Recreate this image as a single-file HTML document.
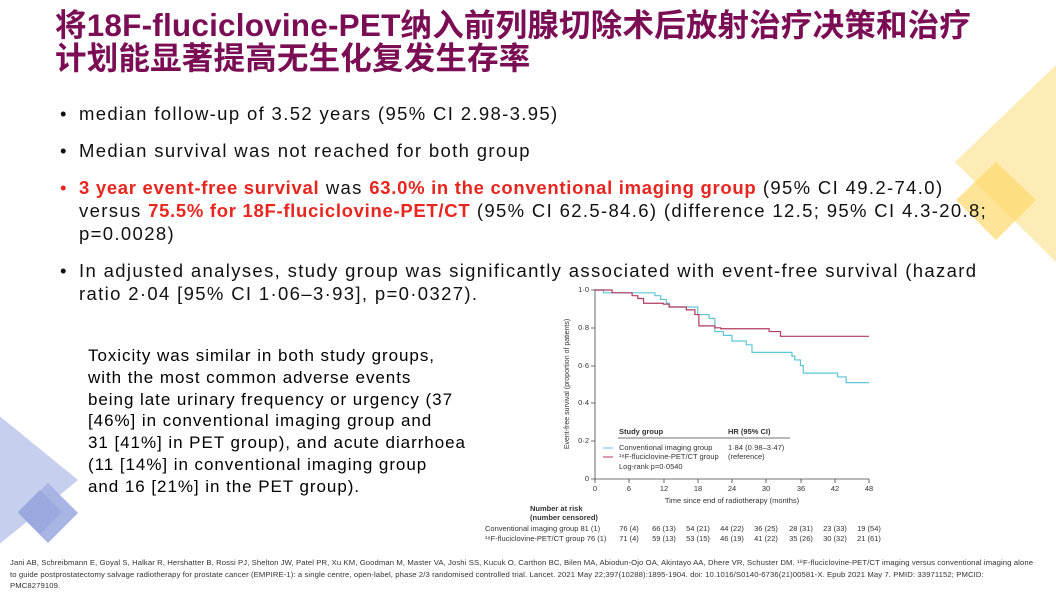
<!DOCTYPE html>
<html><head><meta charset="utf-8"><style>
body{margin:0;width:1056px;height:590px;overflow:hidden;background:#fff;font-family:"Liberation Sans","Noto Sans CJK SC",sans-serif;position:relative}
.t{position:absolute;left:55px;top:9px;font-size:31.5px;font-weight:bold;color:#7b0d55;line-height:33px;font-family:"Liberation Sans","Noto Sans CJK SC",sans-serif;letter-spacing:0.2px;white-space:nowrap}
.b{position:absolute;left:60px;font-size:18.5px;color:#111;line-height:23px;width:990px;letter-spacing:1.35px;white-space:nowrap}
.b span.d{position:absolute;left:0}
.b div{margin-left:19px}
.r{color:#e8261f;font-weight:bold;letter-spacing:0.7px}
.tox{position:absolute;left:88px;top:345px;font-size:17px;line-height:21.8px;color:#000;letter-spacing:0.95px;white-space:nowrap}
.ref{position:absolute;left:10px;top:557px;font-size:7.7px;line-height:11.5px;color:#333;white-space:nowrap;letter-spacing:0.1px}
</style></head><body>
<svg width="1056" height="590" style="position:absolute;left:0;top:0">
<polygon points="1056,65 955,162 1056,262" fill="#fde9a8" opacity="0.85"/>
<polygon points="996,162 1036,200 996,240 956,200" fill="#fcd96a" opacity="0.7"/>
<polygon points="-20,400 78,480 -20,560" fill="#c7cfee"/>
<polygon points="48,483 78,513 48,543 18,513" fill="#a8b5e4"/>
<polygon points="40,490 62,512 40,534 18,512" fill="#9aa8df"/>
</svg>
<div class="t">将18F-fluciclovine-PET纳入前列腺切除术后放射治疗决策和治疗<br>计划能显著提高无生化复发生存率</div>
<div class="b" style="top:102px"><span class="d">•</span><div>median follow-up of 3.52 years (95% CI 2.98-3.95)</div></div>
<div class="b" style="top:139px"><span class="d">•</span><div>Median survival was not reached for both group</div></div>
<div class="b" style="top:176px"><span class="d" style="color:#e8261f">•</span><div><span class="r">3 year event-free survival</span> was <span class="r">63.0% in the conventional imaging group</span> (95% CI 49.2-74.0)<br>versus <span class="r">75.5% for 18F-fluciclovine-PET/CT</span> (95% CI 62.5-84.6) (difference 12.5; 95% CI 4.3-20.8;<br>p=0.0028)</div></div>
<div class="b" style="top:259px"><span class="d">•</span><div>In adjusted analyses, study group was significantly associated with event-free survival (hazard<br>ratio 2·04 [95% CI 1·06–3·93], p=0·0327).</div></div>
<div class="tox">Toxicity was similar in both study groups,<br>with the most common adverse events<br>being late urinary frequency or urgency (37<br>[46%] in conventional imaging group and<br>31 [41%] in PET group), and acute diarrhoea<br>(11 [14%] in conventional imaging group<br>and 16 [21%] in the PET group).</div>
<svg width="1056" height="590" style="position:absolute;left:0;top:0" font-family="Liberation Sans,sans-serif" font-size="7.5" fill="#333">
<g stroke="#444" stroke-width="0.8" fill="none">
<line x1="595" y1="289" x2="595" y2="479"/><line x1="595" y1="479" x2="869" y2="479"/>
<path d="M591,290H595M591,328H595M591,366H595M591,403H595M591,441H595M591,479H595"/>
<path d="M595,479v4M629,479v4M664,479v4M698,479v4M732,479v4M766,479v4M801,479v4M835,479v4M869,479v4"/>
<line x1="618" y1="438" x2="790" y2="438"/>
</g>
<g text-anchor="end"><text x="589" y="292">1·0</text><text x="589" y="330">0·8</text><text x="589" y="368">0·6</text><text x="589" y="405">0·4</text><text x="589" y="443">0·2</text><text x="589" y="481">0</text></g>
<g text-anchor="middle"><text x="595" y="491">0</text><text x="629" y="491">6</text><text x="664" y="491">12</text><text x="698" y="491">18</text><text x="732" y="491">24</text><text x="766" y="491">30</text><text x="801" y="491">36</text><text x="835" y="491">42</text><text x="869" y="491">48</text>
<text x="732" y="503">Time since end of radiotherapy (months)</text></g>
<text transform="translate(569,384) rotate(-90)" text-anchor="middle" font-size="7">Event-free survival (proportion of patients)</text>
<g transform="translate(595,479) scale(5.708,-189)" fill="none" stroke-width="1.2">
<path vector-effect="non-scaling-stroke" stroke="#5cc6d8" d="M0,1H1.5V.985H10.5V.97H11.5V.95H12.5V.93H13V.91H18V.87H20V.85H21V.78H22.5V.76H24V.73H26.5V.71H27.5V.67H34.5V.65H35V.63H36V.6H36.5V.56H42.5V.54H44V.51H48"/>
<path vector-effect="non-scaling-stroke" stroke="#b23a5e" d="M0,1H3V.985H6.5V.97H7.5V.955H8.5V.93H12V.925H13V.91H16V.895H17.5V.87H18.2V.81H21V.8H22V.795H30.5V.78H32.5V.755H48"/>
</g>
<text x="619" y="434" font-weight="bold">Study group</text><text x="728" y="434" font-weight="bold">HR (95% CI)</text>
<line x1="603" y1="448" x2="613" y2="448" stroke="#5cc6d8"/><line x1="603" y1="457" x2="613" y2="457" stroke="#b23a5e"/>
<text x="619" y="450">Conventional imaging group</text><text x="728" y="450">1·84 (0·98–3·47)</text>
<text x="619" y="459">¹⁸F-fluciclovine-PET/CT group</text><text x="728" y="459">(reference)</text>
<text x="619" y="469">Log-rank p=0·0540</text>
<text x="530" y="511" font-weight="bold">Number at risk</text>
<text x="530" y="520" font-weight="bold">(number censored)</text>
<text x="485" y="531">Conventional imaging group  81 (1)</text>
<text x="485" y="541">¹⁸F-fluciclovine-PET/CT group  76 (1)</text>
<g text-anchor="middle"><text x="629" y="531">76 (4)</text><text x="664" y="531">66 (13)</text><text x="698" y="531">54 (21)</text><text x="732" y="531">44 (22)</text><text x="766" y="531">36 (25)</text><text x="801" y="531">28 (31)</text><text x="835" y="531">23 (33)</text><text x="869" y="531">19 (54)</text>
<text x="629" y="541">71 (4)</text><text x="664" y="541">59 (13)</text><text x="698" y="541">53 (15)</text><text x="732" y="541">46 (19)</text><text x="766" y="541">41 (22)</text><text x="801" y="541">35 (26)</text><text x="835" y="541">30 (32)</text><text x="869" y="541">21 (61)</text></g>
</svg>
<div class="ref">Jani AB, Schreibmann E, Goyal S, Halkar R, Hershatter B, Rossi PJ, Shelton JW, Patel PR, Xu KM, Goodman M, Master VA, Joshi SS, Kucuk O, Carthon BC, Bilen MA, Abiodun-Ojo OA, Akintayo AA, Dhere VR, Schuster DM. ¹⁸F-fluciclovine-PET/CT imaging versus conventional imaging alone<br>to guide postprostatectomy salvage radiotherapy for prostate cancer (EMPIRE-1): a single centre, open-label, phase 2/3 randomised controlled trial. Lancet. 2021 May 22;397(10288):1895-1904. doi: 10.1016/S0140-6736(21)00581-X. Epub 2021 May 7. PMID: 33971152; PMCID:<br>PMC8279109.</div>
</body></html>
